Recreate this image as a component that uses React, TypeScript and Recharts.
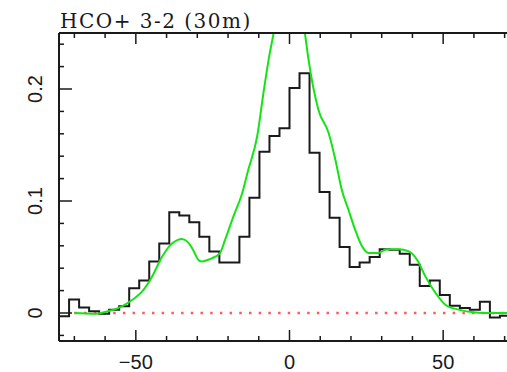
import { LineChart, Line, XAxis, YAxis } from 'recharts'

// HCO+ 3-2 spectrum, channels of ~3.26 km/s starting at channel -23
const CHANNEL_WIDTH = 3.26
const FIRST_CHANNEL = -23
const observedTmb = [
  -0.003, 0.012, 0.005, 0.0015, -0.0006, 0.003, 0.006, 0.022, 0.029, 0.046,
  0.062, 0.09, 0.087, 0.081, 0.068, 0.055, 0.045, 0.045, 0.068, 0.103,
  0.144, 0.158, 0.165, 0.201, 0.214, 0.143, 0.108, 0.085, 0.059, 0.041,
  0.045, 0.05, 0.057, 0.0565, 0.053, 0.043, 0.024, 0.029, 0.016, 0.0065,
  0.0045, 0.003, 0.01, -0.004, -0.0024,
]

// model fit (green)
const modelVelocity = [
  -70, -63, -58.5, -54.5, -51, -48, -45, -41.5, -39, -36.5, -35, -33, -31.5,
  -29.5, -28.5, -26, -24, -22.5, -21, -18, -15.5, -13.5, -10.5, -8.5, -6.8, -5,
  -3, 0, 3, 5, 6.2, 9.4, 12.7, 15, 17, 19.2, 21.4, 23.6, 25.7, 29, 31.5, 35.5,
  38.8, 41.5, 44.2, 47.5, 50.7, 55, 60.5, 65, 72,
]
const modelTmb = [
  0, -0.0006, 0.002, 0.006, 0.012, 0.019, 0.031, 0.05, 0.06, 0.065, 0.066,
  0.063, 0.057, 0.047, 0.046, 0.048, 0.0505, 0.054, 0.065, 0.088, 0.106, 0.127,
  0.158, 0.196, 0.226, 0.252, 0.28, 0.3, 0.28, 0.25, 0.226, 0.1815, 0.161,
  0.136, 0.11, 0.092, 0.074, 0.0595, 0.0536, 0.0536, 0.057, 0.057, 0.055,
  0.0476, 0.0327, 0.018, 0.0074, 0.003, 0.0005, 0, 0,
]

const baselineVelocity = [-70, 75]
const baselineTmb = [0, 0]

const xTicks = [-70, -60, -50, -40, -30, -20, -10, 0, 10, 20, 30, 40, 50, 60, 70]
const xLabelled = [-50, 0, 50]
const yTicks = [-0.02, 0, 0.02, 0.04, 0.06, 0.08, 0.1, 0.12, 0.14, 0.16, 0.18, 0.2, 0.22, 0.24]
const yLabelled = [0, 0.1, 0.2]

const X_DOMAIN: [number, number] = [-75, 75]
const Y_DOMAIN: [number, number] = [-0.025, 0.25]

const observed = observedTmb.map((t, i) => ({ v: (FIRST_CHANNEL + i) * CHANNEL_WIDTH, t }))
observed.push({
  v: (FIRST_CHANNEL + observedTmb.length) * CHANNEL_WIDTH,
  t: observedTmb[observedTmb.length - 1],
})
const model = modelVelocity.map((v, i) => ({ v, t: modelTmb[i] }))
const baseline = baselineVelocity.map((v, i) => ({ v, t: baselineTmb[i] }))

const INK = '#1a1a1a'
const FONT = 'Liberation Sans, Arial, sans-serif'
const X_MARGIN = 14
const Y_MARGIN = 17
const MAJOR = 11
const MINOR = 5

const fmtX = (v: number) => (v < 0 ? `\u2212${Math.abs(v)}` : `${v}`)

// bottom axis: inward tick + label
function BottomTick(props: any) {
  const { x, y, payload } = props
  const major = xLabelled.includes(payload.value)
  const axisY = y - X_MARGIN
  return (
    <g>
      <line x1={x} x2={x} y1={axisY} y2={axisY - (major ? MAJOR : MINOR)} stroke={INK} strokeWidth={1.5} />
      {major && (
        <text x={x} y={y} dy="0.71em" textAnchor="middle" fontFamily={FONT} fontSize={20} fill={INK}>
          {fmtX(payload.value)}
        </text>
      )}
    </g>
  )
}

// top axis: inward tick only
function TopTick(props: any) {
  const { x, y, payload } = props
  const major = xLabelled.includes(payload.value)
  return <line x1={x} x2={x} y1={y} y2={y + (major ? MAJOR : MINOR)} stroke={INK} strokeWidth={1.5} />
}

// left axis: inward tick + rotated label
function LeftTick(props: any) {
  const { x, y, payload } = props
  const major = yLabelled.includes(payload.value)
  const axisX = x + Y_MARGIN
  return (
    <g>
      <line x1={axisX} x2={axisX + (major ? 13 : MINOR)} y1={y} y2={y} stroke={INK} strokeWidth={1.5} />
      {major && (
        <text
          x={x}
          y={y}
          transform={`rotate(-90, ${x}, ${y})`}
          textAnchor="middle"
          fontFamily={FONT}
          fontSize={20}
          fill={INK}
        >
          {payload.value}
        </text>
      )}
    </g>
  )
}

export default function App() {
  const axisLine = { stroke: INK, strokeWidth: 2 }

  return (
    <div style={{ width: 530, height: 372 }}>
      <style>{'body{margin:0;overflow:hidden}'}</style>
      <LineChart width={530} height={372} margin={{ top: 32, right: 10, bottom: 0, left: 0 }}>
        <XAxis
          xAxisId="x"
          dataKey="v"
          type="number"
          domain={X_DOMAIN}
          allowDataOverflow
          ticks={xTicks}
          interval={0}
          tickLine={false}
          tickSize={0}
          tickMargin={X_MARGIN}
          axisLine={axisLine}
          height={31}
          tick={<BottomTick />}
        />
        <XAxis
          xAxisId="top"
          orientation="top"
          dataKey="v"
          type="number"
          domain={X_DOMAIN}
          allowDataOverflow
          ticks={xTicks}
          interval={0}
          tickLine={false}
          tickSize={0}
          tickMargin={0}
          axisLine={axisLine}
          height={1}
          tick={<TopTick />}
        />
        <YAxis
          yAxisId="y"
          type="number"
          domain={Y_DOMAIN}
          allowDataOverflow
          ticks={yTicks}
          interval={0}
          tickLine={false}
          tickSize={0}
          tickMargin={Y_MARGIN}
          axisLine={axisLine}
          width={59}
          tick={<LeftTick />}
        />

        <Line
          xAxisId="x"
          yAxisId="y"
          data={baseline}
          dataKey="t"
          type="linear"
          stroke="#ff5a5a"
          strokeWidth={2.5}
          strokeDasharray="2.5 7.2"
          dot={false}
          isAnimationActive={false}
        />
        <Line
          xAxisId="x"
          yAxisId="y"
          data={observed}
          dataKey="t"
          type="stepAfter"
          stroke={INK}
          strokeWidth={2}
          dot={false}
          isAnimationActive={false}
        />
        <Line
          xAxisId="x"
          yAxisId="y"
          data={model}
          dataKey="t"
          type="monotone"
          stroke="#14e414"
          strokeWidth={2}
          dot={false}
          isAnimationActive={false}
        />
        <text
          x={60}
          y={28}
          fontFamily="DejaVu Serif, serif"
          fontSize={20}
          letterSpacing={1.5}
          fill={INK}
        >
          HCO+ 3-2 (30m)
        </text>
      </LineChart>
    </div>
  )
}
